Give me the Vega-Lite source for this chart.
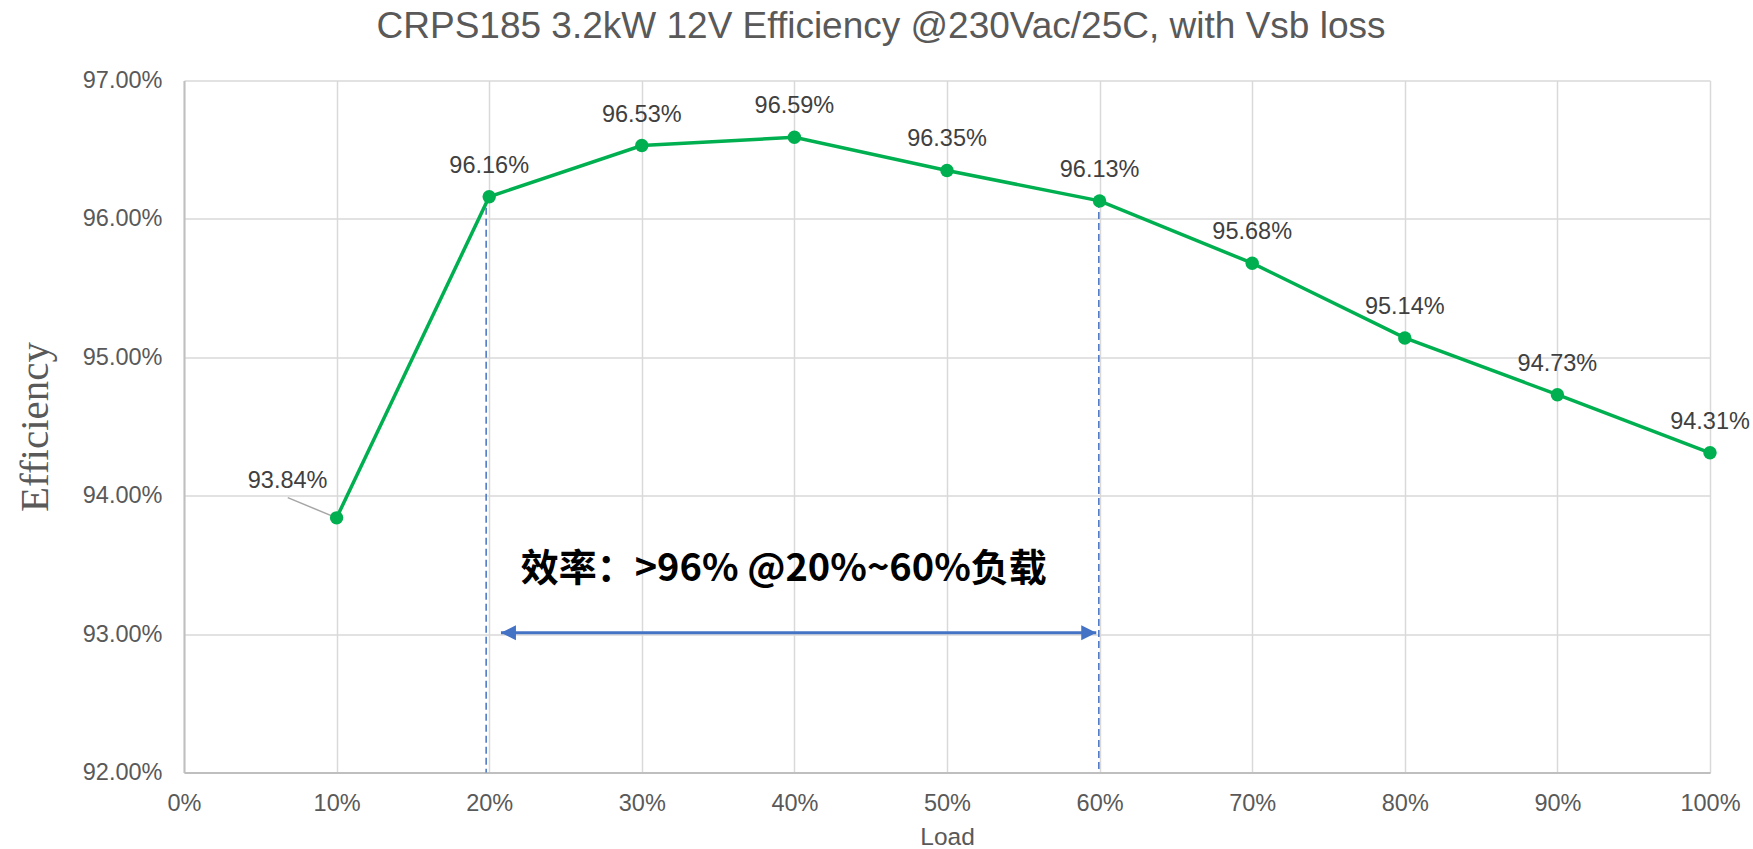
{
  "$schema": "https://vega.github.io/schema/vega-lite/v6.json",
  "autosize": "none",
  "width": 1526,
  "height": 692,
  "padding": {"left": 184, "top": 80.5, "right": 43, "bottom": 76.5},
  "background": "white",
  "title": {
    "text": "CRPS185 3.2kW 12V Efficiency @230Vac/25C, with Vsb loss",
    "font": "Liberation Sans",
    "fontSize": 37,
    "fontWeight": "normal",
    "color": "#595959",
    "anchor": "middle",
    "frame": "group",
    "dx": -66,
    "offset": 23
  },
  "config": {
    "view": {"stroke": null},
    "axis": {
      "labelFont": "Liberation Sans",
      "labelFontSize": 23.5,
      "labelColor": "#595959",
      "titleColor": "#595959",
      "titleFontWeight": "normal",
      "gridColor": "#D9D9D9",
      "gridWidth": 1.5,
      "domainColor": "#BFBFBF",
      "domainWidth": 2,
      "ticks": false,
      "labelFlush": false
    }
  },
  "datasets": {
    "efficiency": [
      {"load": 0.1, "eff": 0.9384},
      {"load": 0.2, "eff": 0.9616},
      {"load": 0.3, "eff": 0.9653},
      {"load": 0.4, "eff": 0.9659},
      {"load": 0.5, "eff": 0.9635},
      {"load": 0.6, "eff": 0.9613},
      {"load": 0.7, "eff": 0.9568},
      {"load": 0.8, "eff": 0.9514},
      {"load": 0.9, "eff": 0.9473},
      {"load": 1.0, "eff": 0.9431}
    ],
    "band_edges": [
      {"load": 0.198, "top": 0.9616, "bottom": 0.92},
      {"load": 0.5995, "top": 0.9613, "bottom": 0.92}
    ],
    "band_arrow": [
      {"from": 0.2077, "to": 0.5978, "eff": 0.9301}
    ],
    "arrow_heads": [
      {"load": 0.2077, "eff": 0.9301, "dir": "left"},
      {"load": 0.5978, "eff": 0.9301, "dir": "right"}
    ],
    "leader": [
      {"load": 0.068, "eff": 0.93986, "load2": 0.1, "eff2": 0.9384}
    ],
    "note": [
      {"load": 0.393, "eff": 0.9346, "text": "效率：>96% @20%~60%负载"}
    ]
  },
  "encoding": {
    "x": {
      "field": "load",
      "type": "quantitative",
      "scale": {"domain": [0, 1], "nice": false, "zero": false},
      "axis": {
        "values": [0, 0.1, 0.2, 0.3, 0.4, 0.5, 0.6, 0.7, 0.8, 0.9, 1.0],
        "format": ".0%",
        "labelPadding": 19,
        "title": "Load",
        "titleFont": "Liberation Sans",
        "titleFontSize": 24.5,
        "titleBaseline": "alphabetic",
        "titleY": 71.5,
        "titleX": 763
      }
    },
    "y": {
      "field": "eff",
      "type": "quantitative",
      "scale": {"domain": [0.92, 0.97], "nice": false, "zero": false},
      "axis": {
        "values": [0.92, 0.93, 0.94, 0.95, 0.96, 0.97],
        "format": ".2%",
        "labelPadding": 22,
        "title": "Efficiency",
        "titleFont": "Liberation Serif",
        "titleFontSize": 41,
        "titleAngle": -90,
        "titleAlign": "center",
        "titleBaseline": "middle",
        "titleX": -149,
        "titleY": 346
      }
    }
  },
  "layer": [
    {
      "data": {"name": "band_edges"},
      "mark": {"type": "rule", "color": "#4472C4", "strokeWidth": 1.5, "strokeDash": [7, 4]},
      "encoding": {
        "y": {"field": "top", "type": "quantitative"},
        "y2": {"field": "bottom"}
      }
    },
    {
      "data": {"name": "band_arrow"},
      "mark": {"type": "rule", "color": "#4472C4", "strokeWidth": 3},
      "encoding": {
        "x": {"field": "from", "type": "quantitative"},
        "x2": {"field": "to"}
      }
    },
    {
      "data": {"name": "arrow_heads"},
      "mark": {"type": "point", "filled": true, "opacity": 1, "color": "#4472C4", "size": 900},
      "encoding": {
        "shape": {
          "field": "dir",
          "type": "nominal",
          "scale": {
            "domain": ["left", "right"],
            "range": ["M0,0L1,-0.5L1,0.5Z", "M0,0L-1,-0.5L-1,0.5Z"]
          },
          "legend": null
        }
      }
    },
    {
      "data": {"name": "leader"},
      "mark": {"type": "rule", "color": "#A6A6A6", "strokeWidth": 1.5},
      "encoding": {
        "x2": {"field": "load2"},
        "y2": {"field": "eff2"}
      }
    },
    {
      "data": {"name": "efficiency"},
      "mark": {"type": "line", "color": "#00B050", "strokeWidth": 3.5},
      "encoding": {}
    },
    {
      "data": {"name": "efficiency"},
      "mark": {"type": "point", "filled": true, "opacity": 1, "color": "#00B050", "size": 180},
      "encoding": {}
    },
    {
      "data": {"name": "efficiency"},
      "transform": [{"filter": "datum.load > 0.15"}],
      "mark": {
        "type": "text",
        "font": "Liberation Sans",
        "fontSize": 23.5,
        "color": "#404040",
        "align": "center",
        "baseline": "alphabetic",
        "dy": -24
      },
      "encoding": {
        "text": {"field": "eff", "type": "quantitative", "format": ".2%"}
      }
    },
    {
      "data": {"name": "efficiency"},
      "transform": [{"filter": "datum.load < 0.15"}],
      "mark": {
        "type": "text",
        "font": "Liberation Sans",
        "fontSize": 23.5,
        "color": "#404040",
        "align": "center",
        "baseline": "alphabetic",
        "dx": -49,
        "dy": -29.5
      },
      "encoding": {
        "text": {"field": "eff", "type": "quantitative", "format": ".2%"}
      }
    },
    {
      "data": {"name": "note"},
      "mark": {
        "type": "text",
        "font": "Noto Sans CJK SC",
        "fontWeight": "bold",
        "fontSize": 38,
        "color": "#000000",
        "align": "center",
        "baseline": "middle"
      },
      "encoding": {
        "text": {"field": "text", "type": "nominal"}
      }
    }
  ]
}
